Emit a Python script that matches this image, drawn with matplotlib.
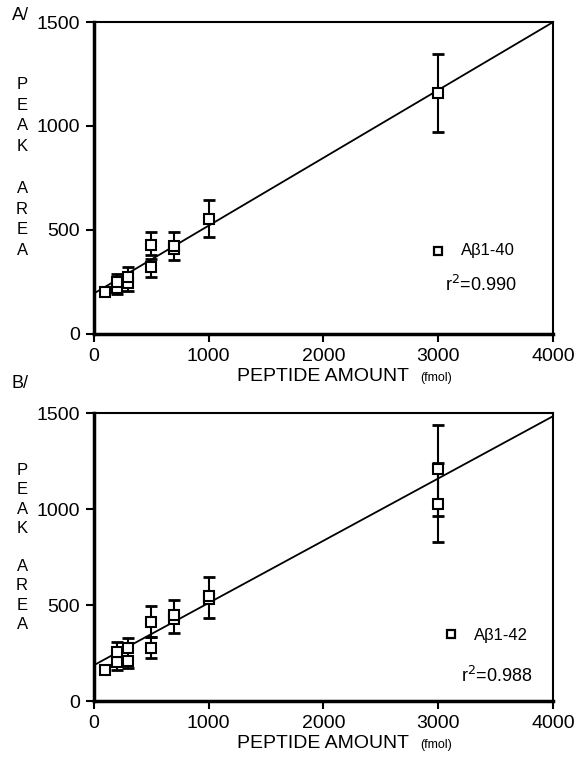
import matplotlib
matplotlib.use('Agg')
import matplotlib.pyplot as plt
import matplotlib.transforms as mtransforms
import numpy as np

plt.rcParams['font.family'] = ['Liberation Sans', 'DejaVu Sans']

# Panel A: Abeta1-40 (squares)
xa = [100, 200, 200, 300, 300, 500, 500, 700, 700, 1000, 3000]
ya = [203, 220, 251, 244, 276, 324, 428, 410, 425, 555, 1157]
# error bars: centre, low end, high end
xa_err = [200, 300, 500, 500, 700, 1000, 3000]
ya_err = [235, 260, 428, 324, 418, 555, 1157]
ya_lo = [192, 208, 380, 276, 356, 468, 973]
ya_hi = [288, 321, 489, 360, 492, 642, 1345]

# Panel B: Abeta1-42
xb = [100, 200, 200, 300, 300, 500, 500, 700, 700, 1000, 1000, 3000, 3000]
yb = [161, 205, 257, 210, 274, 274, 413, 425, 448, 530, 548, 1026, 1210]
xb_err = [200, 300, 500, 500, 700, 1000, 3000, 3000]
yb_err = [230, 240, 413, 274, 436, 540, 1210, 1026]
yb_lo = [161, 170, 335, 222, 352, 435, 965, 830]
yb_hi = [309, 326, 496, 335, 528, 645, 1440, 1240]

# linear fits (slope, intercept)
fit_a = (0.326, 195)
fit_b = (0.324, 187)

fig = plt.figure(figsize=(5.82, 7.73), dpi=100)
ax_a = fig.add_axes([0.1615, 0.568, 0.7885, 0.4035])
ax_b = fig.add_axes([0.1615, 0.0931, 0.7885, 0.3726])


def draw(ax, x, y, xe, ye, lo, hi, fit, label, r2, leg):
    lo_err = np.array(ye) - np.array(lo)
    hi_err = np.array(hi) - np.array(ye)
    ax.errorbar(xe, ye, yerr=[lo_err, hi_err], fmt='none', ecolor='k',
                elinewidth=1.5, capsize=4, capthick=2)
    ax.plot(x, y, 's', ms=7, mfc='white', mec='k', mew=1.5, zorder=3)
    xl = np.array([0, 4000])
    ax.plot(xl, fit[0] * xl + fit[1], 'k-', lw=1.3)
    ax.set_xlim(0, 4000)
    ax.set_ylim(0, 1500)
    ax.set_xticks([0, 1000, 2000, 3000, 4000])
    ax.set_yticks([0, 500, 1000, 1500])
    ax.tick_params(labelsize=14, width=1.5, length=6, direction='out', pad=4)
    ax.spines['left'].set_linewidth(2.5)
    ax.spines['bottom'].set_linewidth(2.5)
    ax.spines['top'].set_linewidth(1.5)
    ax.spines['right'].set_linewidth(1.5)

    # legend-like annotations
    sx, sy, tx, ty, rx, ry = leg
    ax.plot([sx], [sy], 's', ms=5.5, mfc='white', mec='k', mew=1.6)
    ax.text(tx, ty, label, fontsize=12, va='center')
    ax.text(rx, ry, r'r$^2$=' + r2, fontsize=13, va='center')

    ax.annotate('PEPTIDE AMOUNT', xy=(0.5, 0), xycoords='axes fraction',
                xytext=(0, -34), textcoords='offset points',
                fontsize=14, ha='center', va='baseline')
    ax.annotate('(fmol)', xy=(0.71, 0), xycoords='axes fraction',
                xytext=(0, -34), textcoords='offset points',
                fontsize=9, ha='left', va='baseline')

    # stacked y-axis label letters
    trans = mtransforms.blended_transform_factory(fig.transFigure, ax.transData)
    for ch, yy in zip('PEAKAREA', [1200, 1100, 1000, 900, 700, 600, 500, 400]):
        ax.text(0.038, yy, ch, transform=trans, fontsize=12,
                ha='center', va='center')


draw(ax_a, xa, ya, xa_err, ya_err, ya_lo, ya_hi, fit_a, 'Aβ1-40', '0.990',
     (3000, 400, 3200, 400, 3060, 235))
draw(ax_b, xb, yb, xb_err, yb_err, yb_lo, yb_hi, fit_b, 'Aβ1-42', '0.988',
     (3110, 349, 3310, 340, 3200, 130))

fig.text(0.02, 0.98, 'A/', fontsize=13, va='center')
fig.text(0.02, 0.504, 'B/', fontsize=13, va='center')

fig.savefig('out.png', dpi=100)
